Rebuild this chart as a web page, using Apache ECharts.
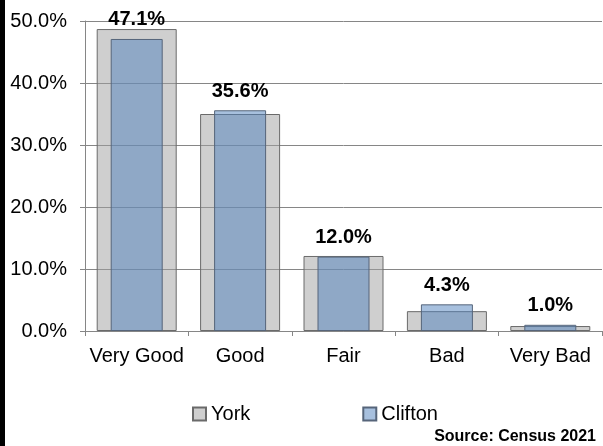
<!DOCTYPE html>
<html>
<head>
<meta charset="utf-8">
<script src="https://cdn.jsdelivr.net/npm/echarts@6/dist/echarts.min.js"></script>
<style>html,body{margin:0;padding:0;background:#fff;}#c{width:603px;height:446px;}</style>
</head>
<body>
<div id="c"></div>
<script>
var categories = ['Very Good', 'Good', 'Fair', 'Bad', 'Very Bad'];
var yorkValues = [48.7, 35.0, 12.1, 3.2, 0.8];
var cliftonValues = [47.1, 35.6, 12.0, 4.3, 1.0];
var seriesNames = ['York', 'Clifton'];
var sourceText = 'Source: Census 2021';

var chart = echarts.init(document.getElementById('c'), null, {renderer: 'canvas'});
var font = 'Liberation Sans, Arial, sans-serif';
chart.setOption({
  animation: false,
  backgroundColor: '#ffffff',
  grid: {left: 85, right: 1, top: 21, bottom: 115, containLabel: false},
  xAxis: [
    {
      type: 'category', data: categories,
      axisLine: {lineStyle: {color: '#868686', width: 1}},
      axisTick: {show: true, length: 5, lineStyle: {color: '#868686'}},
      axisLabel: {color: '#000', fontSize: 20, fontFamily: font, margin: 15, interval: 0, hideOverlap: false},
      splitLine: {show: false}
    },
    {
      type: 'category', data: categories, show: false
    }
  ],
  yAxis: {
    type: 'value', min: 0, max: 50, interval: 10,
    axisLine: {show: true, lineStyle: {color: '#868686', width: 1}},
    axisTick: {show: true, length: 5, lineStyle: {color: '#868686'}},
    axisLabel: {color: '#000', fontSize: 20, fontFamily: font, margin: 18,
      formatter: function (v) { return v.toFixed(1) + '%'; }},
    splitLine: {show: true, lineStyle: {color: '#868686', width: 1}}
  },
  legend: {
    data: seriesNames, left: 187, top: 399, itemWidth: 13, itemHeight: 13, itemGap: 112,
    textStyle: {color: '#000', fontSize: 20, fontFamily: font},
    icon: 'rect'
  },
  series: [
    {
      name: seriesNames[0], type: 'bar', xAxisIndex: 0, data: yorkValues, barWidth: 80,
      itemStyle: {color: 'rgba(160,160,160,0.5)', borderColor: '#6a6a6a', borderWidth: 1}
    },
    {
      name: seriesNames[1], type: 'bar', xAxisIndex: 1, data: cliftonValues, barWidth: 52,
      itemStyle: {color: 'rgba(79,129,189,0.5)', borderColor: '#56657a', borderWidth: 1},
      label: {show: true, position: 'top', distance: 9, color: '#000', fontSize: 20,
        fontWeight: 'bold', fontFamily: font,
        formatter: function (p) { return p.value.toFixed(1) + '%'; }}
    }
  ],
  graphic: [
    {type: 'rect', left: 0, top: 0, shape: {width: 5, height: 446}, style: {fill: '#000'}},
    {type: 'text', right: 7, top: 429, style: {text: sourceText, fill: '#000',
      font: 'bold 16px Liberation Sans, Arial, sans-serif'}}
  ]
});
</script>
</body>
</html>
